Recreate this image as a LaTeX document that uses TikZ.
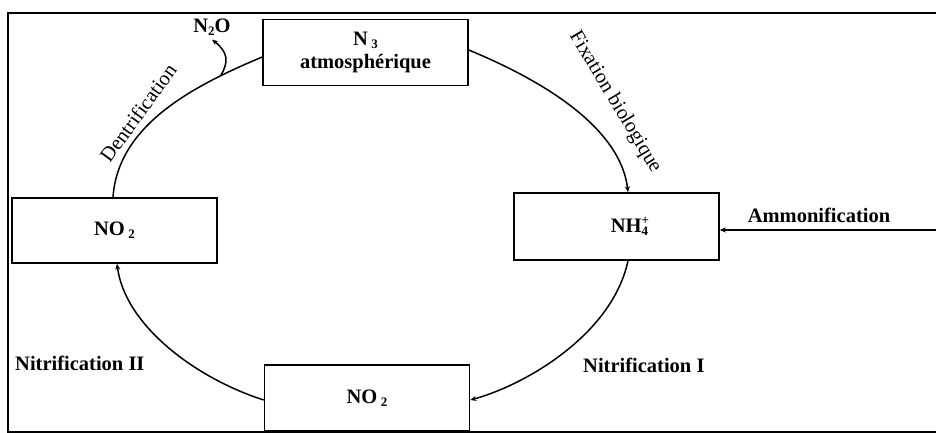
\documentclass[tikz,border=0pt]{standalone}
\usepackage{fontspec}
\setmainfont{Liberation Serif}
\usetikzlibrary{arrows.meta}
\newcommand\sbs[1]{\raisebox{-0.35ex}{\fontsize{13}{13}\selectfont #1}}
\newcommand\sps[1]{\raisebox{0.8ex}{\fontsize{13}{13}\selectfont #1}}
\begin{document}
\begin{tikzpicture}[x=1pt,y=-1pt,
  box/.style={draw,line width=1.6pt,minimum width=205pt,minimum height=66pt,inner sep=0pt,
    font=\fontsize{20.5}{23}\selectfont\bfseries,align=center},
  flow/.style={line width=1.5pt},
  tip/.style={-{Stealth[length=6pt,width=5pt]}},
  lbl/.style={font=\fontsize{20.5}{24}\selectfont\bfseries,inner sep=0pt},
  rlbl/.style={font=\fontsize{20.5}{24}\selectfont,inner sep=0pt}]
\useasboundingbox (0,0) rectangle (936,433);
% frame
\draw[line width=1.2pt] (936,13) -- (8,13) -- (8,432) -- (936,432);
% boxes
\node[box] (n2) at (365.5,52.5) {N\,\sbs{3}\\atmosphérique};
\node[box,minimum height=65pt] (no2l) at (114.5,230.5) {NO\,\sbs{2}};
\node[box,minimum height=67pt] (nh4) at (616.5,226.5) {\hspace*{26pt}NH\rlap{\sps{+}}\sbs{4}};
\node[box] (no2b) at (367,398) {NO\,\sbs{2}};
% labels
\node[lbl] (n2o) at (212,27) {N\sbs{2}O};
\node[rlbl,rotate=54] (den) at (138,113) {Dentrification};
\node[rlbl,rotate=-59] (fix) at (615,102) {Fixation biologique};
\node[lbl,anchor=base] (amm) at (819,222) {Ammonification};
\node[lbl,anchor=base west] (nit2) at (15,370) {Nitrification II};
\node[lbl,anchor=base west] (nit1) at (583,372) {Nitrification I};
% connectors
\draw[flow] ([yshift=-4.5pt]n2.west) .. controls (193,86) and (118,125) .. ([xshift=-1.5pt]no2l.north) coordinate[pos=0.2] (j);
\draw[flow,tip] (j) .. controls (229,62) and (228,52) .. ([yshift=-4pt]n2o.south);
\draw[flow,tip] ([yshift=2.5pt]n2.east) .. controls (570,92) and (622,140) .. ([xshift=11.5pt]nh4.north);
\draw[flow,tip] ([xshift=11.5pt]nh4.south) .. controls (612,335) and (525,385) .. ([yshift=-2pt]no2b.east);
\draw[flow,tip] ([yshift=-2pt]no2b.west) .. controls (195,378) and (125,325) .. ([xshift=2.5pt]no2l.south);
\coordinate (ain) at (936,230);
\draw[flow,tip] (ain) -- (ain -| nh4.east);
\end{tikzpicture}
\end{document}
